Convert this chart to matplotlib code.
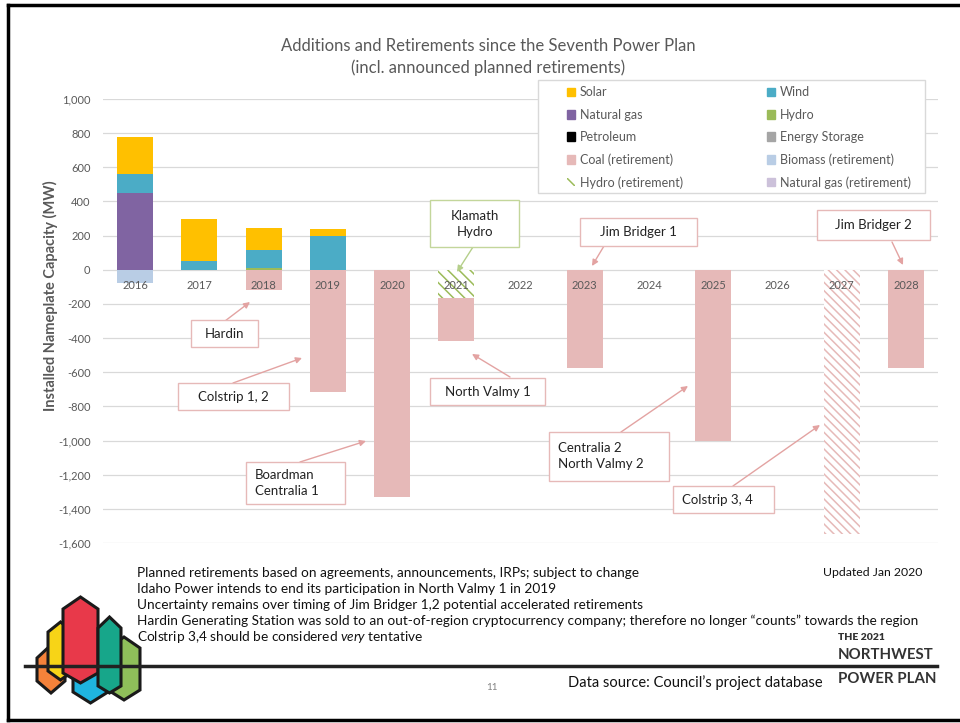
import numpy as np
import matplotlib.pyplot as plt
from matplotlib.patches import Rectangle, Polygon, Patch
from matplotlib.ticker import FuncFormatter

plt.rcParams['font.family'] = ['Lato', 'DejaVu Sans']
plt.rcParams['hatch.linewidth'] = 1.1
plt.rcParams['mathtext.fontset'] = 'custom'
plt.rcParams['mathtext.rm'] = 'Lato'
plt.rcParams['mathtext.it'] = 'Lato:italic'

W, H = 960, 723

# data (MW)
years = ['2016', '2017', '2018', '2019', '2020', '2021', '2022',
         '2023', '2024', '2025', '2026', '2027', '2028']
natural_gas = [450, 0, 0, 0, 0, 0, 0, 0, 0, 0, 0, 0, 0]
hydro = [0, 0, 13, 0, 0, 0, 0, 0, 0, 0, 0, 0, 0]
petroleum = [0] * 13
energy_storage = [0] * 13
wind = [110, 50, 105, 200, 0, 0, 0, 0, 0, 0, 0, 0, 0]
solar = [215, 245, 125, 40, 0, 0, 0, 0, 0, 0, 0, 0, 0]
biomass_ret = [-78, 0, 0, 0, 0, 0, 0, 0, 0, 0, 0, 0, 0]
hydro_ret = [0, 0, 0, 0, 0, -165, 0, 0, 0, 0, 0, 0, 0]
natgas_ret = [0] * 13
coal_ret = [0, 0, -120, -715, -1330, -250, 0, -575, 0, -1000, 0, 0, -575]
coal_ret_tentative = [0, 0, 0, 0, 0, 0, 0, 0, 0, 0, 0, -1550, 0]

yticks = list(range(-1600, 1001, 200))

C_SOLAR = '#ffc000'
C_WIND = '#4bacc6'
C_GAS = '#8064a2'
C_HYDRO = '#9bbb59'
C_PET = '#000000'
C_STOR = '#a5a5a5'
C_COAL = '#e6b9b8'
C_BIO = '#b9cde5'
C_HYDRO_R = '#9bbb59'
C_GAS_R = '#ccc1da'
GRAY = '#595959'


def fx(x):
    return x / W


def fy(y):
    return 1 - y / H


fig = plt.figure(figsize=(9.6, 7.23), dpi=100)
fig.patch.set_facecolor('white')

ax = fig.add_axes([fx(103), fy(543), 835 / W, 444 / H])
x = np.arange(len(years))
bw = 0.56

# positive stack
pos = np.zeros(len(years))
for vals, col in [(natural_gas, C_GAS), (hydro, C_HYDRO), (petroleum, C_PET),
                  (energy_storage, C_STOR), (wind, C_WIND), (solar, C_SOLAR)]:
    v = np.array(vals, dtype=float)
    ax.bar(x, v, bw, bottom=pos, color=col, linewidth=0, zorder=2)
    pos += v

# negative stack
neg = np.zeros(len(years))
for vals, col, hatch in [(biomass_ret, C_BIO, None), (hydro_ret, C_HYDRO_R, '\\\\\\'),
                         (natgas_ret, C_GAS_R, None), (coal_ret, C_COAL, None),
                         (coal_ret_tentative, C_COAL, '\\\\\\\\')]:
    v = np.array(vals, dtype=float)
    if hatch:
        ax.bar(x, v, bw, bottom=neg, color='white', edgecolor=col, hatch=hatch,
               linewidth=0, zorder=2)
    else:
        ax.bar(x, v, bw, bottom=neg, color=col, linewidth=0, zorder=2)
    neg += v

ax.set_xlim(-0.5, len(years) - 0.5)
ax.set_ylim(-1600, 1000)
ax.set_yticks(yticks)
ax.yaxis.set_major_formatter(FuncFormatter(lambda v, _: f'{int(v):,}'))
ax.tick_params(axis='y', length=0, labelsize=8, labelcolor=GRAY, pad=9)
ax.set_xticks([])
ax.grid(axis='y', color='#d9d9d9', linewidth=0.9, zorder=0)
ax.set_axisbelow(True)
for s in ax.spines.values():
    s.set_visible(False)

# category labels sit at the zero line
for i, yr in enumerate(years):
    ax.annotate(yr, (i, 0), xytext=(0, -11), textcoords='offset points',
                ha='center', va='center', fontsize=8, color=GRAY, zorder=5)

fig.text(fx(50), fy(296), 'Installed Nameplate Capacity (MW)', rotation=90,
         ha='center', va='center', fontsize=10.5, fontweight='bold', color=GRAY)

fig.text(fx(488), fy(46), 'Additions and Retirements since the Seventh Power Plan',
         ha='center', va='center', fontsize=12, color=GRAY)
fig.text(fx(488), fy(68), '(incl. announced planned retirements)',
         ha='center', va='center', fontsize=12, color=GRAY)

# legend
fig.add_artist(Rectangle((fx(538), fy(193)), (925 - 538) / W, (193 - 80) / H,
                         transform=fig.transFigure, facecolor='white',
                         edgecolor='#d9d9d9', linewidth=1, zorder=1))
col1 = [Patch(color=C_SOLAR, label='Solar'),
        Patch(color=C_GAS, label='Natural gas'),
        Patch(color=C_PET, label='Petroleum'),
        Patch(color=C_COAL, label='Coal (retirement)'),
        Patch(facecolor='white', edgecolor=C_HYDRO_R, hatch='\\\\\\', linewidth=0,
              label='Hydro (retirement)')]
col2 = [Patch(color=C_WIND, label='Wind'),
        Patch(color=C_HYDRO, label='Hydro'),
        Patch(color=C_STOR, label='Energy Storage'),
        Patch(color=C_BIO, label='Biomass (retirement)'),
        Patch(color=C_GAS_R, label='Natural gas (retirement)')]
for handles, xl in [(col1, 567), (col2, 767)]:
    leg = fig.legend(handles=handles, loc='upper left',
                     bbox_to_anchor=(fx(xl), fy(86.5)), frameon=False,
                     fontsize=9, handlelength=0.65, handleheight=0.65,
                     handletextpad=0.35, labelspacing=0.82, borderpad=0,
                     borderaxespad=0, labelcolor=GRAY)
    leg.set_zorder(3)

# callouts: text, box (x0, y0, x1, y1), alignment, arrow start, arrow end, colour
PINK = '#e6b9b8'
ARROW = '#e3a3a2'
callouts = [
    ('Hardin', (191, 320, 258, 347), 'center', (225, 321), (250, 302), PINK),
    ('Colstrip 1, 2', (178, 383, 289, 410), 'center', (233, 383), (302, 358), PINK),
    ('Boardman\nCentralia 1', (246, 462, 345, 504), 'left', (300, 462), (366, 441), PINK),
    ('North Valmy 1', (430, 378, 545, 405), 'center', (510, 377), (472, 354), PINK),
    ('Klamath\nHydro', (430, 200, 519, 247), 'center', (473, 247), (457, 272), '#c3d69b'),
    ('Jim Bridger 1', (580, 218, 697, 246), 'center', (604, 246), (592, 266), PINK),
    ('Centralia 2\nNorth Valmy 2', (549, 432, 669, 481), 'left', (621, 432), (688, 386), PINK),
    ('Colstrip 3, 4', (673, 486, 774, 513), 'left', (733, 486), (820, 425), PINK),
    ('Jim Bridger 2', (817, 210, 930, 240), 'center', (892, 242), (903, 265), PINK),
]
for txt, (x0, y0, x1, y1), ha, a0, a1, ec in callouts:
    acol = ARROW if ec == PINK else '#b5cf8a'
    ax.annotate('', xy=(a1[0], H - a1[1]), xytext=(a0[0], H - a0[1]),
                xycoords='figure pixels', textcoords='figure pixels',
                arrowprops=dict(arrowstyle='-|>', color=acol, lw=1,
                                mutation_scale=9, shrinkA=0, shrinkB=0),
                annotation_clip=False, zorder=6)
    fig.add_artist(Rectangle((fx(x0), fy(y1)), (x1 - x0) / W, (y1 - y0) / H,
                             transform=fig.transFigure, facecolor='white',
                             edgecolor=ec, linewidth=1, zorder=2))
    tx = (x0 + x1) / 2 if ha == 'center' else x0 + 9
    fig.text(fx(tx), fy((y0 + y1) / 2), txt, ha=ha, va='center', fontsize=9.5,
             color='#222222', linespacing=1.4, zorder=4)

# footer notes
foot = ['Lato', 'DejaVu Sans']
notes = ['Planned retirements based on agreements, announcements, IRPs; subject to change',
         'Idaho Power intends to end its participation in North Valmy 1 in 2019',
         'Uncertainty remains over timing of Jim Bridger 1,2 potential accelerated retirements',
         'Hardin Generating Station was sold to an out-of-region cryptocurrency company; '
         'therefore no longer \u201ccounts\u201d towards the region']
for i, line in enumerate(notes):
    fig.text(fx(137), fy(573 + 16 * i), line, ha='left', va='center', fontsize=9.85,
             family=foot, color='#111111')
fig.text(fx(137), fy(637), 'Colstrip 3,4 should be considered $\\it{very}$ tentative',
         ha='left', va='center', fontsize=9.85, family=foot, color='#111111')
fig.text(fx(922), fy(572), 'Updated Jan 2020', ha='right', va='center', fontsize=8.8,
         family=foot, color='#111111')
fig.text(fx(823), fy(683), 'Data source: Council\u2019s project database', ha='right',
         va='center', fontsize=10.5, family=foot, color='#111111')
fig.text(fx(492), fy(688), '11', ha='center', va='center', fontsize=7, family=foot,
         color='#808080')
fig.text(fx(838), fy(638), 'THE 2021', ha='left', va='center', fontsize=7.5,
         family=foot, fontweight='heavy', color='#333333')
fig.text(fx(838), fy(655), 'NORTHWEST', ha='left', va='center', fontsize=10.8,
         family=foot, fontweight='bold', color='#333333')
fig.text(fx(838), fy(679), 'POWER PLAN', ha='left', va='center', fontsize=10.8,
         family=foot, fontweight='bold', color='#333333')

# logo hexagons: (left, right, top, top shoulder, bottom shoulder, bottom, colour)
hexes = [(37, 65, 645, 658, 681, 693, '#f5823a'),
         (48, 73, 622, 632, 671, 680, '#f7d417'),
         (73, 108, 628, 640, 692, 703, '#1fb5e0'),
         (63, 98, 597, 609, 673, 683, '#e8394a'),
         (108, 140, 637, 648, 690, 700, '#8fbf5a'),
         (98, 121, 617, 628, 686, 693, '#17a68a')]
for l, r, t, ts, bs, b, c in hexes:
    m = (l + r) / 2
    pts = [(fx(l), fy(ts)), (fx(m), fy(t)), (fx(r), fy(ts)),
           (fx(r), fy(bs)), (fx(m), fy(b)), (fx(l), fy(bs))]
    fig.add_artist(Polygon(pts, closed=True, transform=fig.transFigure,
                           facecolor=c, edgecolor='#1a1a1a', linewidth=2.2, zorder=3))

# footer rule and slide frame
fig.add_artist(plt.Line2D([fx(25), fx(937)], [fy(666), fy(666)], color='#222222',
                          linewidth=2.5, zorder=4))
fig.add_artist(plt.Line2D([fx(8), fx(960)], [fy(5), fy(5)], color='black', linewidth=2.5))
fig.add_artist(plt.Line2D([fx(8), fx(8)], [fy(5), fy(720)], color='black', linewidth=2.5))
fig.add_artist(plt.Line2D([fx(8), fx(960)], [fy(720), fy(720)], color='black', linewidth=2.5))

fig.savefig('out.png', dpi=100)
